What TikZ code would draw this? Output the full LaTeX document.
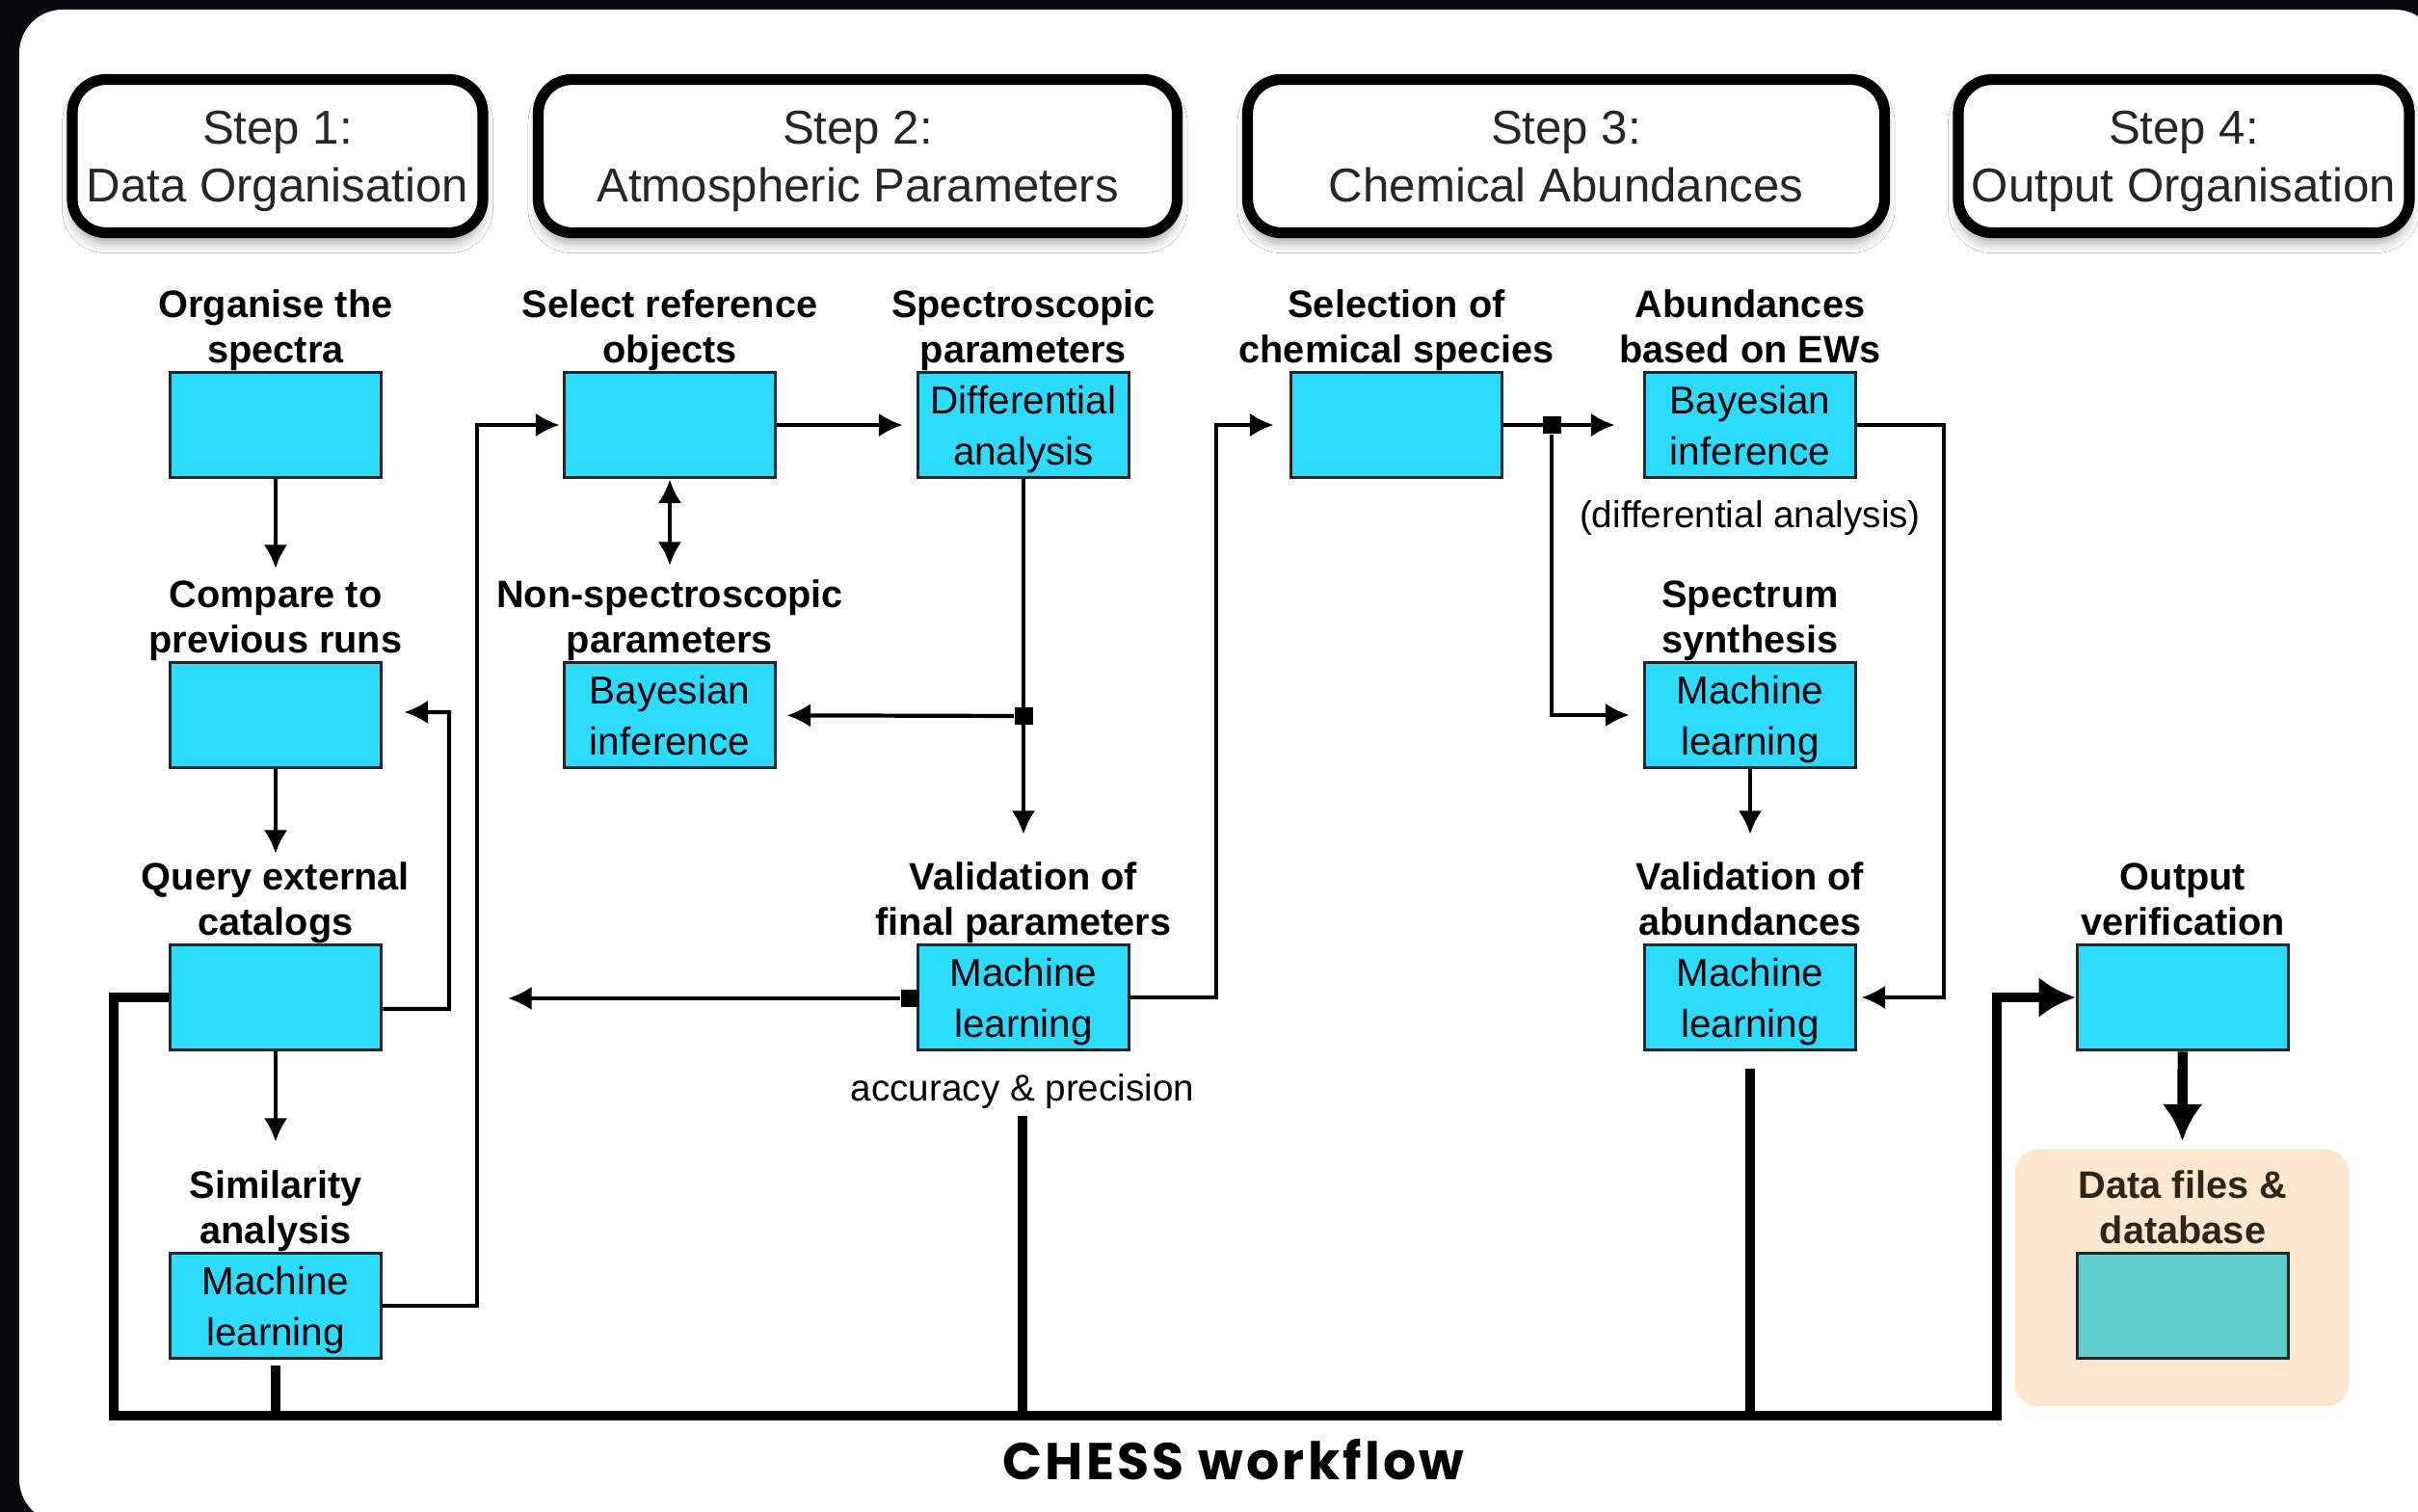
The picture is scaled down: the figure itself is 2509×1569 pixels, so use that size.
\documentclass[tikz,border=0pt]{standalone}
\usepackage{fontspec}
\setmainfont{Liberation Sans}
\newfontfamily\titlefont{Poppins}[LetterSpace=6]
\usetikzlibrary{arrows.meta,positioning,shadows.blur}

\definecolor{nightsky}{RGB}{10,10,14}
\definecolor{boxcyan}{RGB}{44,220,254}
\definecolor{dbteal}{RGB}{92,205,203}
\definecolor{peach}{RGB}{253,231,209}
\definecolor{dbtext}{RGB}{52,36,22}

\tikzset{
  stephead/.style={draw=black, line width=3.2pt, rounded corners=3.5mm, fill=white,
    minimum width=#1, minimum height=15.9mm, align=center, text=black!85, text depth=0pt,
    font=\fontsize{14}{17}\selectfont,
    blur shadow={shadow xshift=0pt, shadow yshift=-3pt, shadow blur radius=3pt, shadow opacity=35}},
  box/.style={draw=black!85, line width=1.1pt, fill=boxcyan, minimum width=21.9mm,
    minimum height=10.9mm, inner sep=0pt, text depth=-1.6pt, align=center, font=\fontsize{11.5}{15}\selectfont},
  lbl/.style={align=center, inner sep=1pt, text depth=1.2pt, font=\bfseries\fontsize{11.3}{13.3}\selectfont},
  note/.style={inner sep=1pt, font=\fontsize{11}{13}\selectfont},
  line/.style={line width=1.2pt},
  arr/.style={line, -{Latex[length=7pt,width=7pt]}},
  bus/.style={line width=3pt},
  jn/.style={fill=black, minimum size=5.4pt, inner sep=0pt}
}

\begin{document}
\begin{tikzpicture}[x=0.1mm, y=-0.1mm]
\useasboundingbox (0,0) rectangle (2509,1569);
\fill[nightsky] (0,0) rectangle (2509,1569);
\fill[white, rounded corners=4.5mm] (20,10) rectangle (2530,1580);

% Steps
\node[stephead=42.6mm] (step1) at (288,162) {Step 1:\\Data Organisation};
\node[stephead=66.3mm] (step2) at (890,162) {Step 2:\\Atmospheric Parameters};
\node[stephead=66.1mm] (step3) at (1625,162) {Step 3:\\Chemical Abundances};
\node[stephead=46.8mm] (step4) at (2266,162) {Step 4:\\Output Organisation};

% Step 1 column
\node[box] (orgspec) at (286,441) {};
\node[lbl, above=0pt of orgspec] (orgspecL) {Organise the\\spectra};
\node[box] (cmpruns) at (286,742) {};
\node[lbl, above=0pt of cmpruns] (cmprunsL) {Compare to\\previous runs};
\node[box] (qrycat) at (286,1035) {};
\node[lbl, above=0pt of qrycat] (qrycatL) {Query external\\catalogs};
\node[box] (simml) at (286,1355) {Machine\\learning};
\node[lbl, above=0pt of simml] (simmlL) {Similarity\\analysis};

% Step 2 columns
\node[box] (selref) at (695,441) {};
\node[lbl, above=0pt of selref] (selrefL) {Select reference\\objects};
\node[box] (nsbayes) at (695,742) {Bayesian\\inference};
\node[lbl, above=0pt of nsbayes] (nsbayesL) {Non-spectroscopic\\parameters};
\node[box] (diffan) at (1062,441) {Differential\\analysis};
\node[lbl, above=0pt of diffan] (diffanL) {Spectroscopic\\parameters};
\node[box] (valml) at (1062,1035) {Machine\\learning};
\node[lbl, above=0pt of valml] (valmlL) {Validation of\\final parameters};
\node[note] (accnote) at (1061,1132) {accuracy \& precision};

% Step 3 columns
\node[box] (selchem) at (1449,441) {};
\node[lbl, above=0pt of selchem] (selchemL) {Selection of\\chemical species};
\node[box] (abbayes) at (1816,441) {Bayesian\\inference};
\node[lbl, above=0pt of abbayes] (abbayesL) {Abundances\\based on EWs};
\node[note] (diffnote) at (1816,538) {(differential analysis)};
\node[box] (synml) at (1816,742) {Machine\\learning};
\node[lbl, above=0pt of synml] (synmlL) {Spectrum\\synthesis};
\node[box] (valabml) at (1816,1035) {Machine\\learning};
\node[lbl, above=0pt of valabml] (valabmlL) {Validation of\\abundances};

% Step 4 column
\node[box] (outver) at (2265,1035) {};
\node[lbl, above=0pt of outver] (outverL) {Output\\verification};
\node[fill=peach, rounded corners=2.5mm, minimum width=34.7mm, minimum height=26.7mm] (dbpanel) at (2264,1326) {};
\node[box, fill=dbteal] (dbfiles) at (2265,1355) {};
\node[lbl, text=dbtext, above=0pt of dbfiles] (dbfilesL) {Data files \&\\database};

% junctions and bends
\node[jn] (jdiff) at (1062,743) {};
\node[jn] (jval) at (944,1036) {};
\node[jn] (jsel) at (1610,441) {};
\coordinate (loopA) at (495,1355);
\coordinate (loopQ) at (466,1047);
\coordinate (loopC) at (1262,1035);
\coordinate (loopE) at (2017,441);
\coordinate (valout) at (527,1036);
\coordinate (qleft) at (118,1035);
\coordinate (busA) at (118,1469);
\coordinate (busB) at (2072,1469);
\coordinate (outbend) at (2072,1035);

% Step 1 arrows
\draw[arr, shorten >=0.85mm] (orgspec) -- (cmprunsL);
\draw[arr, shorten >=0.45mm] (cmpruns) -- (qrycatL);
\draw[arr, shorten >=2.55mm] (qrycat) -- (simmlL);
\draw[arr, shorten >=2.2mm] ([yshift=-1.2mm]qrycat.east) -- (loopQ) |- ([yshift=0.3mm]cmpruns.east);

% Step 2 arrows
\draw[line, {Latex[length=7pt,width=7pt]}-{Latex[length=7pt,width=7pt]}, shorten >=1.05mm] (selref) -- (nsbayesL);
\draw[arr, shorten >=1.4mm] (selref) -- (diffan);
\draw[arr, shorten >=0.3mm] (simml.east) -- (loopA) |- (selref.west);
\draw[arr, shorten >=2.45mm] (diffan) -- (valmlL);
\draw[arr, shorten >=1mm] (jdiff) -- (nsbayes);
\draw[arr] (jval) -- (valout);
\draw[arr, shorten >=1.6mm] (valml.east) -- (loopC) |- (selchem.west);

% Step 3 arrows
\draw[arr, shorten >=2.9mm] (selchem) -- (abbayes);
\draw[arr, shorten >=1.4mm] (jsel) |- (synml);
\draw[arr, shorten >=0.4mm] (abbayes.east) -- (loopE) |- (valabml.east);
\draw[arr, shorten >=2.45mm] (synml) -- (valabmlL);

% workflow bus
\draw[bus, -{Latex[length=10.8pt,width=12pt]}] (qrycat.west) -- (qleft) -- (busA) -- (busB) -- (outbend) -- (outver.west);
\draw[bus, shorten <=0.6mm] (simml) -- (simml |- busA);
\draw[bus, shorten <=0.4mm] (accnote) -- (accnote |- busA);
\draw[bus, shorten <=1.8mm] (valabml) -- (valabml |- busA);
\draw[bus, -{Latex[length=10.8pt,width=12pt]}, shorten >=0.8mm] (outver) -- (dbpanel);

\node[font=\titlefont\bfseries\fontsize{15.3}{18}\selectfont] (title) at (1280,1515) {CHESS workflow};
\end{tikzpicture}
\end{document}
